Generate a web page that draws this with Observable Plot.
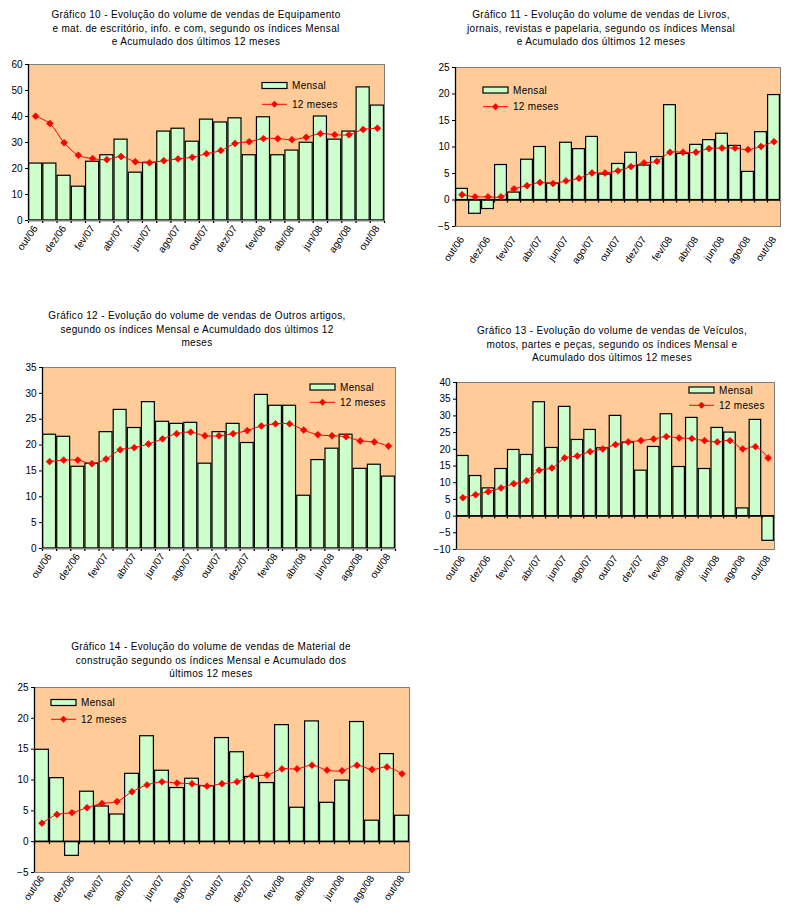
<!DOCTYPE html>
<html><head><meta charset="utf-8">
<script src="https://cdn.jsdelivr.net/npm/d3@7"></script>
<script src="https://cdn.jsdelivr.net/npm/@observablehq/plot@0.6"></script>
<style>
body{margin:0;background:#fff;font-family:"Liberation Sans",Arial,sans-serif;}
#root{position:relative;width:794px;height:924px;overflow:hidden;background:#fff;}
.title{position:absolute;font-size:10px;line-height:13.5px;letter-spacing:0.35px;text-align:center;color:#000;white-space:nowrap;transform:translateX(-50%);}
svg{overflow:visible;}
</style></head><body><div id="root"></div>
<script>
// ---- data ----
const months = ["out/06","nov/06","dez/06","jan/07","fev/07","mar/07","abr/07","mai/07","jun/07","jul/07","ago/07","set/07","out/07","nov/07","dez/07","jan/08","fev/08","mar/08","abr/08","mai/08","jun/08","jul/08","ago/08","set/08","out/08"];
const seriesNames = ["Mensal", "12 meses"];

const mensal10 = [21.9,21.9,17.2,13.0,22.6,25.1,31.1,18.4,22.2,34.2,35.3,30.3,38.8,37.7,39.3,25.1,39.7,25.1,26.9,29.9,40.0,31.1,34.2,51.2,44.2];
const acum10   = [40.1,37.3,29.9,25.1,23.8,23.4,24.6,22.6,22.2,23.0,23.7,24.3,25.7,26.9,29.6,30.3,31.5,31.5,31.1,32.0,33.4,33.0,33.0,35.0,35.5];

const mensal11 = [2.1,-2.6,-1.7,6.6,1.4,7.6,10.0,3.1,10.8,9.6,11.9,4.8,6.8,8.9,6.5,8.1,17.9,8.7,10.4,11.3,12.5,10.2,5.3,12.8,19.8];
const acum11   = [1.0,0.6,0.6,0.6,2.1,2.7,3.3,3.1,3.6,4.1,5.1,5.1,5.5,6.3,7.0,7.3,9.0,9.0,9.0,9.7,9.8,9.8,9.5,10.1,11.0];

const mensal12 = [22.0,21.6,15.8,16.4,22.5,26.8,23.3,28.3,24.5,24.1,24.3,16.4,22.5,24.1,20.4,29.7,27.6,27.6,10.2,17.1,19.3,22.0,15.4,16.2,13.9];
const acum12   = [16.8,17.1,17.1,16.4,17.3,19.1,19.5,20.2,21.2,22.2,22.5,21.8,21.8,22.2,22.8,23.7,24.1,24.1,22.9,22.0,21.8,21.6,20.8,20.6,19.8];

const mensal13 = [18.0,12.0,8.3,14.1,19.8,18.3,34.1,20.4,32.7,22.8,25.8,20.3,30.0,22.0,13.6,20.7,30.5,14.7,29.4,14.1,26.4,25.0,2.3,28.8,-7.4];
const acum13   = [5.5,6.4,7.3,8.4,9.7,10.6,13.7,14.4,17.4,18.0,19.3,20.1,21.4,22.2,22.6,23.1,23.8,23.4,23.2,22.6,22.2,22.6,20.1,20.8,17.4];

const mensal14 = [14.9,10.3,-2.3,8.1,5.7,4.4,11.0,17.1,11.5,8.7,10.2,9.0,16.8,14.5,10.5,9.5,18.9,5.5,19.5,6.3,9.9,19.4,3.4,14.2,4.2];
const acum14   = [3.0,4.4,4.7,5.5,6.2,6.5,8.1,9.2,9.7,9.5,9.4,9.0,9.4,9.7,10.7,10.8,11.8,11.8,12.4,11.6,11.5,12.4,11.7,12.1,11.0];

const titles10 = ["Gráfico 10 - Evolução do volume de vendas de Equipamento","e mat. de escritório, info. e com, segundo os índices Mensal","e Acumulado dos últimos 12 meses"];
const titles11 = ["Gráfico 11 - Evolução do volume de vendas de Livros,","jornais, revistas e papelaria, segundo os índices Mensal","e Acumulado dos últimos 12 meses"];
const titles12 = ["Gráfico 12 - Evolução do volume de vendas de Outros artigos,","segundo os índices Mensal e Acumuldado dos últimos 12","meses"];
const titles13 = ["Gráfico 13 - Evolução do volume de vendas de Veículos,","motos, partes e peças, segundo os índices Mensal e","Acumulado dos últimos 12 meses"];
const titles14 = ["Gráfico 14 - Evolução do volume de vendas de Material de","construção segundo os índices Mensal e Acumulado dos","últimos 12 meses"];

// ---- layout (pixels) ----
const charts = [
  {mensal: mensal10, acum: acum10, title: titles10, domain: [0,60], step: 10, box: [28,64,384,220], tcx: 196, tcy: 15, leg: [262,85.5,104.3], pad: 6},
  {mensal: mensal11, acum: acum11, title: titles11, domain: [-5,25], step: 5, box: [455,67,780,226], tcx: 601, tcy: 15, leg: [483,90,106.7], pad: 11},
  {mensal: mensal12, acum: acum12, title: titles12, domain: [0,35], step: 5, box: [42,367,395,548], tcx: 197, tcy: 316, leg: [310,387,402.3], pad: 6},
  {mensal: mensal13, acum: acum13, title: titles13, domain: [-10,40], step: 5, box: [456,382,774,549], tcx: 612, tcy: 331, leg: [689,390,405.3], pad: 7},
  {mensal: mensal14, acum: acum14, title: titles14, domain: [-5,25], step: 5, box: [34,687,409,872], tcx: 211, tcy: 647, leg: [51,702.5,719.3], pad: 4}
];

const root = document.getElementById("root");
const FONT = "Liberation Sans, Arial, sans-serif";
const labelPos = months.map((m,i)=>i+0.5).filter((d,i)=>i%2===0);

for (const c of charts) {
  const [x0,y0,x1,y1] = c.box;
  const ML=40, MR=6, MT=6, MB=70;
  const data = months.map((m,i)=>({i, m, v: c.mensal[i], a: c.acum[i]}));
  const svg = Plot.plot({
    width: x1-x0+ML+MR, height: y1-y0+MT+MB,
    marginLeft: ML, marginRight: MR, marginTop: MT, marginBottom: MB,
    style: {fontFamily: FONT, fontSize: "10px", background: "transparent", color: "#000", overflow: "visible"},
    x: {domain: [0, months.length], axis: null, label: null},
    y: {domain: c.domain, axis: null, label: null},
    marks: [
      Plot.frame({fill: "#FFCC99", stroke: null}),
      Plot.rectY(data, {x1: "i", x2: d=>d.i+1, y: "v", fill: "#CCFFCC", stroke: "#000", strokeWidth: 1.2, insetLeft: 0.6, insetRight: 0.6}),
      Plot.ruleY([0], {stroke: "#000", strokeWidth: 1.3}),
      Plot.ruleX(d3.range(0, months.length+1), {y1: 0, y2: 0, insetBottom: -3, stroke: "#000", strokeWidth: 1.2}),
      Plot.line(data, {x: d=>d.i+0.5, y: "a", stroke: "#FF0000", strokeWidth: 1, curve: "catmull-rom"}),
      Plot.dot(data, {x: d=>d.i+0.5, y: "a", symbol: "diamond2", r: 3.1, fill: "#FF0000", stroke: "#FF0000", strokeWidth: 0.6}),
      Plot.frame({stroke: "#808080"}),
      Plot.ruleX([0], {stroke: "#000", strokeWidth: 1.3}),
      Plot.axisY({ticks: d3.range(c.domain[0], c.domain[1]+0.001, c.step), tickSize: 3, tickPadding: 3, fontSize: 10, stroke: "#000", label: null}),
      Plot.axisX({ticks: labelPos, tickFormat: d=>months[Math.floor(d)], tickRotate: -55, tickSize: 0, tickPadding: c.pad, fontSize: 10, label: null})
    ]
  });
  svg.style.position = "absolute";
  svg.style.left = (x0-ML)+"px";
  svg.style.top = (y0-MT)+"px";
  root.appendChild(svg);

  const t = document.createElement("div");
  t.className = "title";
  t.style.left = c.tcx+"px";
  t.style.top = (c.tcy-7)+"px";
  t.innerHTML = c.title.join("<br>");
  root.appendChild(t);
}

// legends overlay
const ov = d3.select(root).append("svg").attr("width",794).attr("height",924)
  .style("position","absolute").style("left","0").style("top","0").style("pointer-events","none");
for (const c of charts) {
  const [lx, ly1, ly2] = c.leg;
  const g = ov.append("g").style("font-family", FONT).style("font-size","10px").style("letter-spacing","0.3px");
  g.append("rect").attr("x",lx).attr("y",ly1-3).attr("width",25).attr("height",6).attr("fill","#CCFFCC").attr("stroke","#000").attr("stroke-width",1.2);
  g.append("text").attr("x",lx+30).attr("y",ly1).attr("dy","0.35em").text(seriesNames[0]);
  g.append("line").attr("x1",lx).attr("x2",lx+25).attr("y1",ly2).attr("y2",ly2).attr("stroke","#FF0000").attr("stroke-width",1);
  g.append("path").attr("d", d3.symbol(d3.symbolDiamond2, Math.PI*3.1*3.1)()).attr("transform",`translate(${lx+12.5},${ly2})`).attr("fill","#FF0000");
  g.append("text").attr("x",lx+30).attr("y",ly2).attr("dy","0.35em").text(seriesNames[1]);
}
</script></body></html>
